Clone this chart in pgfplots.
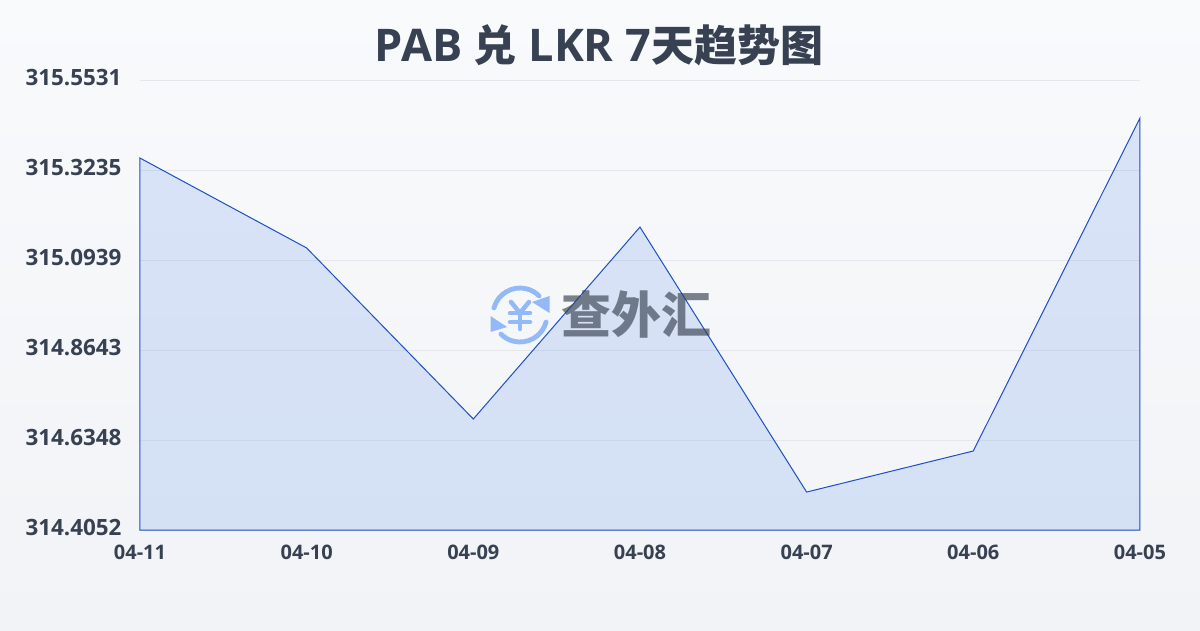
\documentclass[border=0pt]{standalone}
\usepackage{fontspec}
\usepackage{pgfplots}
\pgfplotsset{compat=1.18}
\setmainfont{Open Sans}
\newfontfamily\cjk{Noto Sans CJK SC}
\definecolor{txt}{HTML}{374151}
\definecolor{gridc}{HTML}{E5E7EB}
\definecolor{linec}{HTML}{1E4FC4}
\definecolor{fillc}{HTML}{2F6FE8}
\definecolor{iconc}{HTML}{93B9F8}
\definecolor{bgtop}{HTML}{F8FAFC}
\definecolor{bgbot}{HTML}{F1F3F6}
\pgfplotstableread{
x y
0 315.354
1 315.1246
2 314.6883
3 315.178
4 314.502
5 314.6067
6 315.456
}\rates
\begin{document}
\begin{tikzpicture}[x=1pt,y=1pt]
\path[use as bounding box] (0,0) rectangle (1200,630);
\shade[top color=bgtop,bottom color=bgbot] (0,0) rectangle (1200,630);
\begin{axis}[
  at={(140pt,100pt)},anchor=south west,
  scale only axis,width=1000pt,height=450pt,
  xmin=0,xmax=6,ymin=314.4052,ymax=315.5531,
  clip=false,
  axis line style={draw=none},
  ytick style={draw=none},
  xtick style={draw={rgb,255:red,243;green,243;blue,236},line width=0.8pt},
  xtick align=outside,
  xtick pos=bottom,
  ytick pos=left,
  major tick length=10pt,
  ymajorgrids,grid style={gridc,line width=0.8pt},
  xtick={0,1,2,3,4,5,6},
  xticklabels={04-11,04-10,04-09,04-08,04-07,04-06,04-05},
  ytick={314.4052,314.6348,314.8643,315.0939,315.3235,315.5531},
  yticklabels={314.4052,314.6348,314.8643,315.0939,315.3235,315.5531\hspace{-2pt}},
  yticklabel style={font=\bfseries\fontsize{22.4}{22.4}\selectfont,text=txt,xshift=-15pt,yshift=2pt},
  xticklabel style={font=\bfseries\fontsize{20}{20}\selectfont,text=txt,yshift=-1pt},
]
\addplot[draw=linec,line width=1pt,fill=fillc,fill opacity=0.15] table[x=x,y=y] {\rates} \closedcycle;
\end{axis}
% watermark
\begin{scope}[shift={(520,315)},line cap=round]
\draw[line width=4.8pt,iconc] (165:27) arc (165:45:27);
\draw[line width=4.8pt,iconc] (-15:27) arc (-15:-135:27);
\fill[iconc] (12,13) -- (29.5,19) -- (29.5,2) -- cycle;
\fill[iconc] (-29.5,-1) -- (-29.5,-17) -- (-13,-12) -- cycle;
\draw[line width=4.5pt,iconc] (-9,13) -- (0,2) -- (9,13);
\draw[line width=4.5pt,iconc] (0,2) -- (0,-14);
\draw[line width=4.5pt,iconc] (-10,2) -- (10,2);
\draw[line width=4.5pt,iconc] (-10,-7) -- (10,-7);
\end{scope}
\node[text=txt,text opacity=0.65,font=\cjk\bfseries\fontsize{50}{50}\selectfont,inner sep=0pt,anchor=center] at (636,315) {查外汇};
\node[text=txt,font=\bfseries\fontsize{45}{45}\selectfont,anchor=center,inner sep=0pt] at (599,585) {PAB {\cjk\fontsize{43}{43}\selectfont 兑} LKR 7{\cjk\fontsize{43}{43}\selectfont 天趋势图}};
\end{tikzpicture}
\end{document}
